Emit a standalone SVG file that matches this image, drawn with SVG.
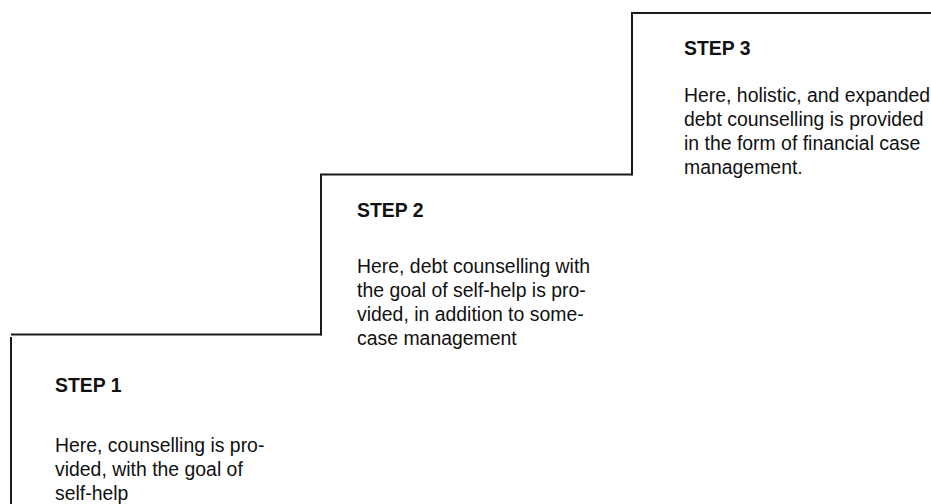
<svg xmlns="http://www.w3.org/2000/svg" width="931" height="504" viewBox="0 0 931 504">
  <style>
    .stair { fill: none; stroke: #1a1a1a; stroke-width: 2; }
    .title { font-family: "Liberation Sans", Arial, sans-serif; font-size: 21px; font-weight: bold; fill: #111; }
    .body { font-family: "Liberation Sans", Arial, sans-serif; font-size: 21px; fill: #111; }
  </style>
  <rect width="931" height="504" fill="#ffffff"/>
  <g id="step1">
    <path class="stair" d="M11,504 V337 M11,334.5 H321"/>
    <g transform="translate(55,0) scale(0.925,1)">
      <text class="title" x="0" y="392">STEP 1</text>
      <text class="body" x="0" y="452">Here, counselling is pro-</text>
      <text class="body" x="0" y="476">vided, with the goal of</text>
      <text class="body" x="0" y="500">self-help</text>
    </g>
  </g>
  <g id="step2">
    <path class="stair" d="M321,335.5 V174.5 H632"/>
    <g transform="translate(357,0) scale(0.925,1)">
      <text class="title" x="0" y="217">STEP 2</text>
      <text class="body" x="0" y="273">Here, debt counselling with</text>
      <text class="body" x="0" y="297">the goal of self-help is pro-</text>
      <text class="body" x="0" y="321">vided, in addition to some-</text>
      <text class="body" x="0" y="345">case management</text>
    </g>
  </g>
  <g id="step3">
    <path class="stair" d="M632,175.5 V13 H931"/>
    <g transform="translate(684,0) scale(0.925,1)">
      <text class="title" x="0" y="55">STEP 3</text>
      <text class="body" x="0" y="102">Here, holistic, and expanded</text>
      <text class="body" x="0" y="126">debt counselling is provided</text>
      <text class="body" x="0" y="150">in the form of financial case</text>
      <text class="body" x="0" y="174">management.</text>
    </g>
  </g>
</svg>
